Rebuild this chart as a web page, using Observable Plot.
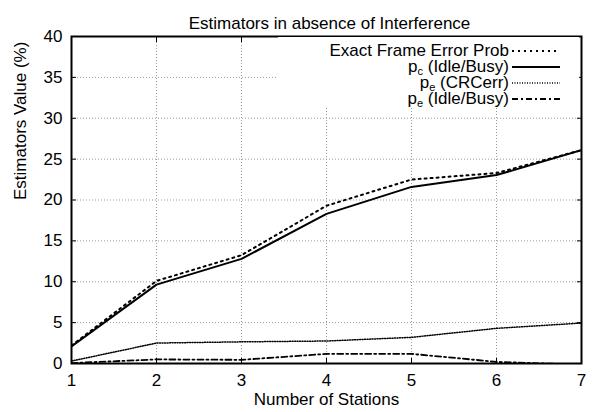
<!DOCTYPE html>
<html><head><meta charset="utf-8">
<script src="https://cdn.jsdelivr.net/npm/d3@7"></script>
<script src="https://cdn.jsdelivr.net/npm/@observablehq/plot@0.6"></script>
<style>
body{margin:0;background:#fff;}
#wrap{position:relative;width:594px;height:412px;}
#wrap svg{position:absolute;left:0;top:0;}
</style></head><body><div id="wrap"></div>
<script>
// ---- data ----
const stations = [1, 2, 3, 4, 5, 6, 7];
const exactFrameError = [2.2, 10.1, 13.25, 19.3, 22.5, 23.3, 26.1];
const pcIdleBusy = [2.1, 9.65, 12.8, 18.3, 21.6, 23.05, 26.1];
const peCRCerr = [0.3, 2.5, 2.65, 2.75, 3.2, 4.3, 4.95];
const peIdleBusy = [0.05, 0.5, 0.45, 1.18, 1.18, 0.2, -0.15];
const xTicks = [1, 2, 3, 4, 5, 6, 7];
const yTicks = [0, 5, 10, 15, 20, 25, 30, 35, 40];
const xGridTicks = [2, 3, 4, 5, 6];
const yGridTicks = [5, 10, 15, 20, 25, 30, 35];
const legendMain = ["Exact Frame Error Prob", "p", "p", "p"];
const legendSub = ["", "c", "e", "e"];
const legendRest = ["", " (Idle/Busy)", " (CRCerr)", " (Idle/Busy)"];
const titleText = "Estimators in absence of Interference";
const xLabel = "Number of Stations";
const yLabel = "Estimators Value (%)";

// ---- styles ----
const seriesValues = [exactFrameError, pcIdleBusy, peCRCerr, peIdleBusy];
const lineStyles = [
  {dash: "2,4", width: 2},
  {dash: null, width: 2},
  {dash: "1,1.5", width: 1.5},
  {dash: "6,3,2,3", width: 1.8}
];
const FONT = "'Liberation Sans', Arial, Helvetica, sans-serif";

const tables = seriesValues.map((vals, s) => stations.map((x, i) => ({x, y: vals[i], s})));
const gridStyle = {stroke: "#999", strokeOpacity: 1, strokeDasharray: "1,2", strokeWidth: 1};

const chart = Plot.plot({
  width: 594, height: 412,
  marginLeft: 71, marginRight: 13, marginTop: 36, marginBottom: 49,
  style: {fontFamily: FONT, fontSize: "17px", color: "black", background: "white"},
  x: {domain: [1, 7], label: null},
  y: {domain: [0, 40], label: null},
  marks: [
    Plot.gridX(xGridTicks, gridStyle),
    Plot.gridY(yGridTicks, gridStyle),
    ...tables.map((t, s) => Plot.line(t, {
      x: "x", y: "y", stroke: "black", strokeWidth: lineStyles[s].width,
      strokeDasharray: lineStyles[s].dash, clip: true
    })),
    Plot.axisX({ticks: xTicks, tickSize: -5, tickPadding: 15, label: null, fontSize: 17, tickFormat: d => String(d)}),
    Plot.axisY({ticks: yTicks, tickSize: -5, tickPadding: 14, label: null, fontSize: 17, tickFormat: d => String(d)}),
    Plot.axisX({anchor: "top", ticks: xTicks, tickSize: -5, label: null, tickFormat: () => ""}),
    Plot.axisY({anchor: "right", ticks: yTicks, tickSize: -5, label: null, tickFormat: () => ""}),
    Plot.frame({stroke: "black", strokeWidth: 2}),
    Plot.text([titleText], {frameAnchor: "top", dy: -20, dx: 3, fontSize: 17}),
    Plot.text([xLabel], {frameAnchor: "bottom", dy: 41, fontSize: 17}),
    Plot.text([yLabel], {frameAnchor: "left", dx: -51, rotate: -90, fontSize: 17})
  ]
});
const wrap = document.getElementById("wrap");
wrap.appendChild(chart);

// ---- legend overlay ----
const rowY = [51, 67, 83, 99];
const leg = d3.select(wrap).append("svg")
  .attr("width", 594).attr("height", 412)
  .style("pointer-events", "none");
leg.append("rect").attr("x", 278).attr("y", 37).attr("width", 301).attr("height", 70).attr("fill", "white");
legendMain.forEach((m, i) => {
  const t = leg.append("text").attr("x", 509).attr("y", rowY[i] + 5)
    .attr("text-anchor", "end").style("font-family", FONT).style("font-size", "17px").attr("fill", "black");
  t.append("tspan").text(m);
  if (legendSub[i]) {
    t.append("tspan").attr("dy", 3).style("font-size", "11px").text(legendSub[i]);
    t.append("tspan").attr("dy", -3).text(legendRest[i]);
  }
  leg.append("line").attr("x1", 512).attr("x2", 560).attr("y1", rowY[i]).attr("y2", rowY[i])
    .attr("stroke", "black").attr("stroke-width", lineStyles[i].width)
    .attr("stroke-dasharray", lineStyles[i].dash);
});
</script></body></html>
